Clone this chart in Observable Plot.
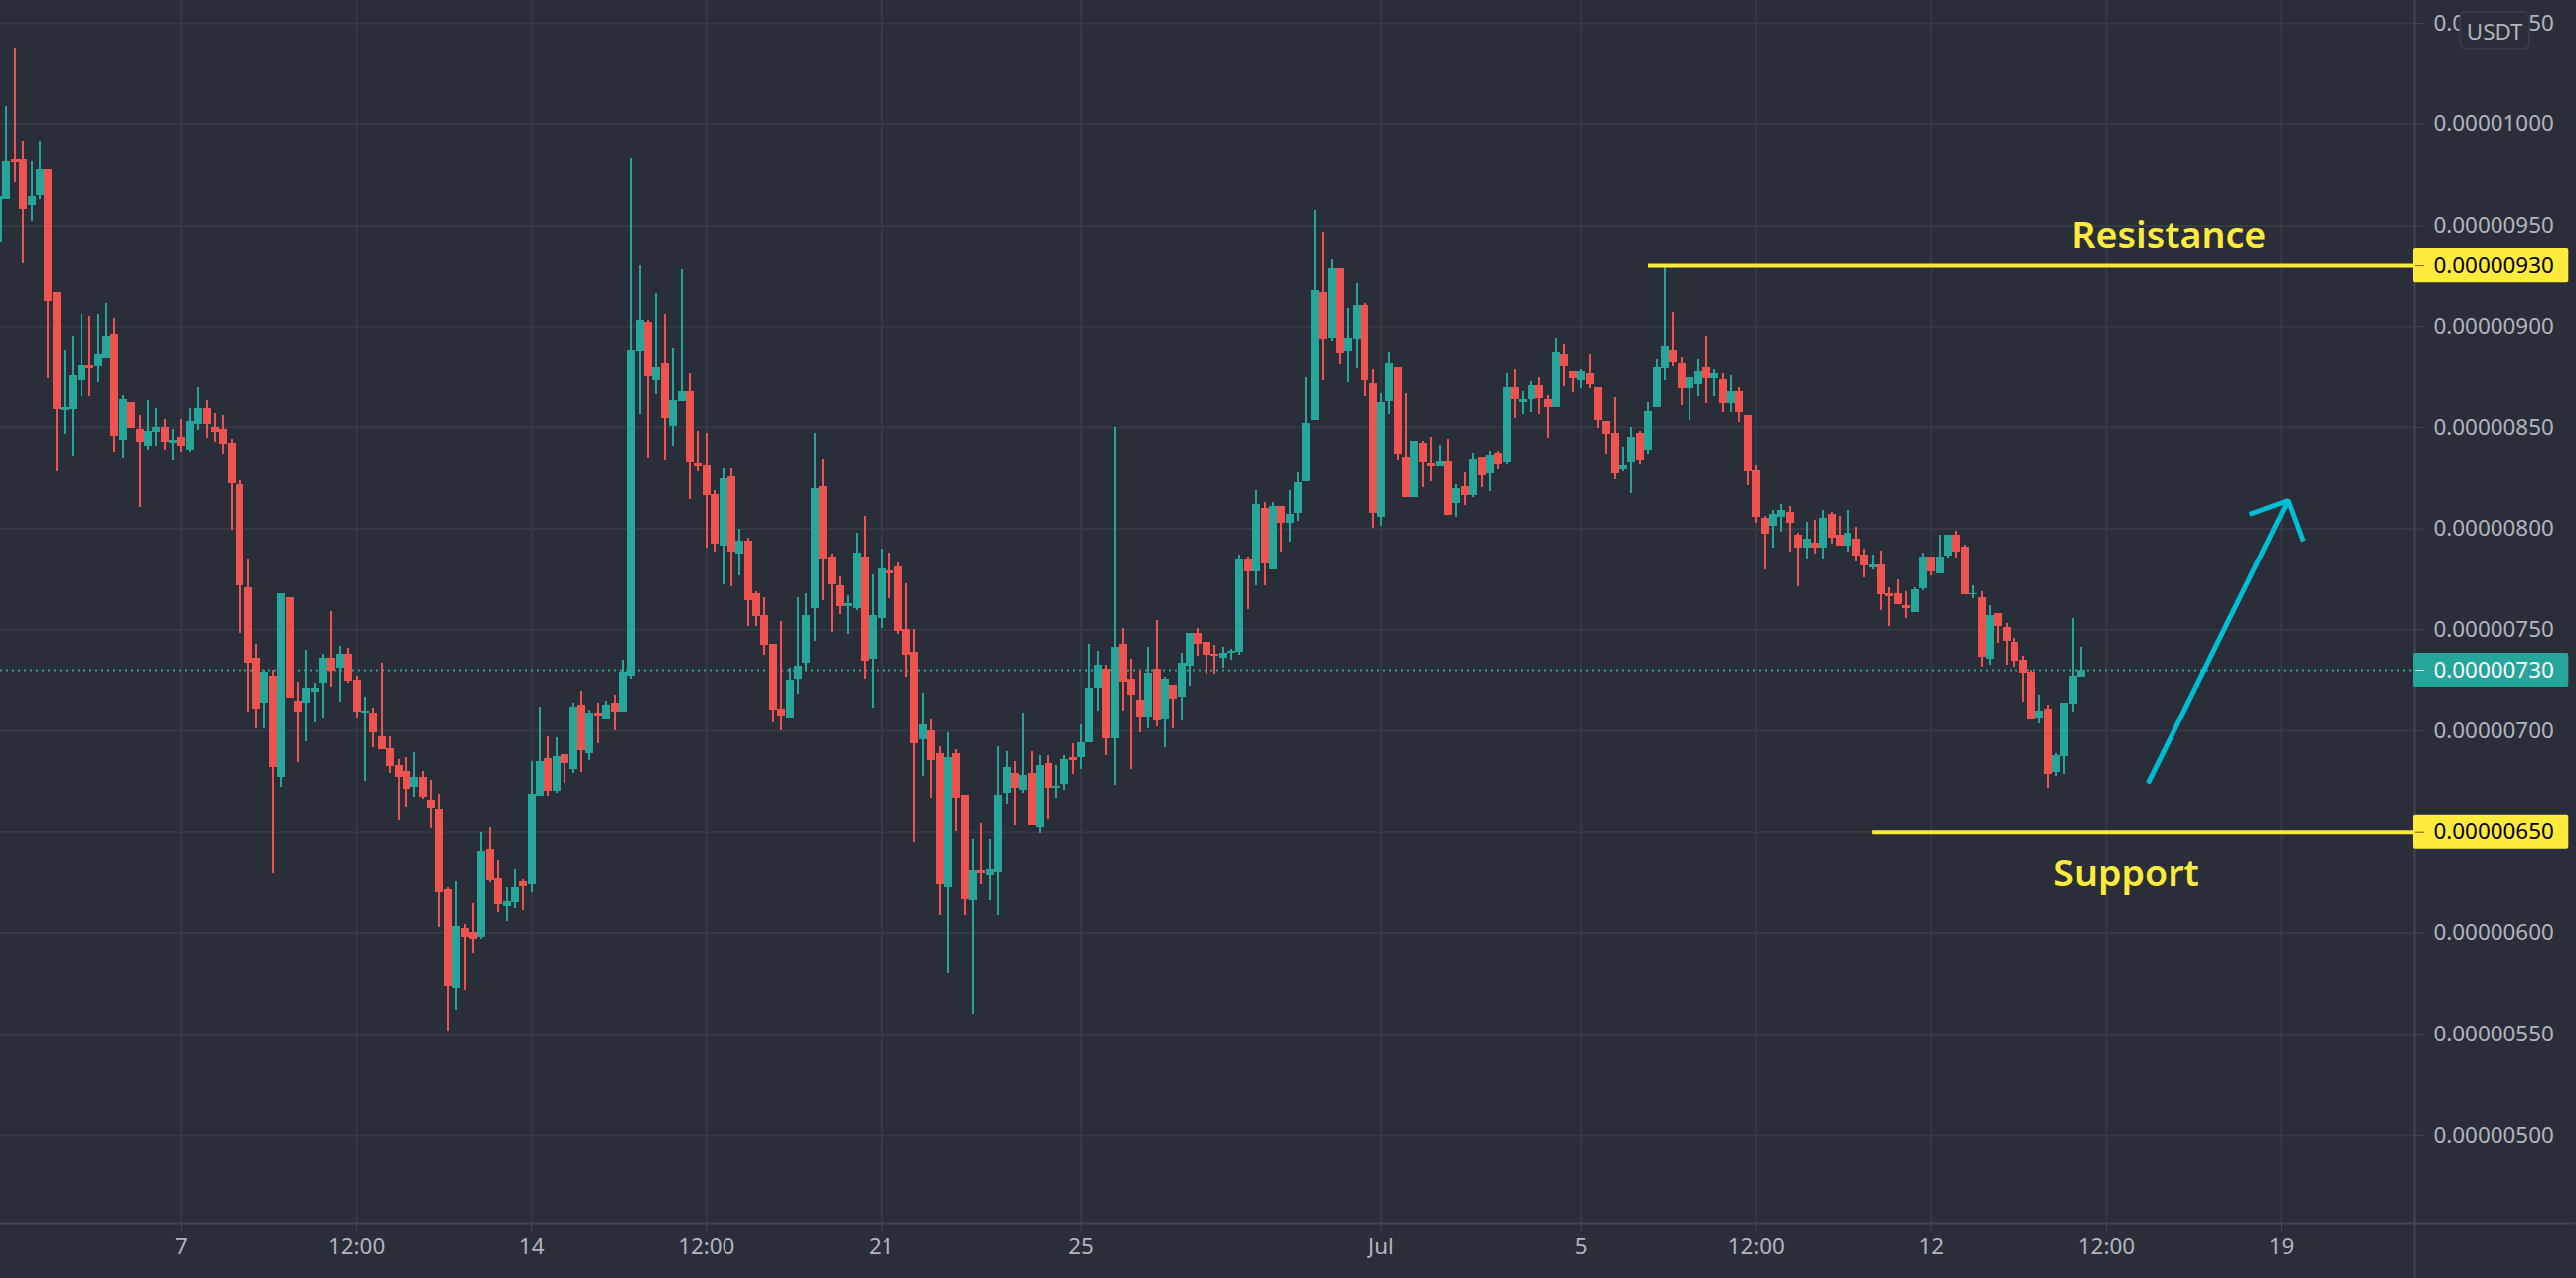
<!DOCTYPE html>
<html>
<head>
<meta charset="utf-8">
<style>
html,body{margin:0;padding:0;background:#2a2e39;overflow:hidden}
svg{display:block}
</style>
<script src="https://cdn.jsdelivr.net/npm/d3@7"></script>
<script src="https://cdn.jsdelivr.net/npm/@observablehq/plot@0.6"></script>
</head>
<body>
<script>
// Prices in units of 0.00000001 USDT, one value per 4h candle
const opens = [
941.6,963,982.6,982.6,960.2,965,977.8,917,858.2,858.8,
873.4,880.8,880.2,884.2,896,843.6,862.2,849,840.6,847.4,
850,842.2,845,838.6,851.4,859.2,850,849,842,822,
770.9,736,713.6,727.2,676.8,766,715,713.6,719.4,723.7,
736,730.8,738.1,725.3,708.7,709,697.3,691,683,680,
671.9,677.1,665.4,661,621.2,572.6,602,600.1,597.7,641.4,
627.2,613,614.9,625.2,623.6,667.8,686.1,669.8,688,680.6,
713,688.5,709,705.7,713.9,709.3,726.8,888,901.8,873.4,
881.8,850.2,862.6,868,832.2,831.4,817,791.3,825.7,787.4,
793.9,768,757,742.9,711,706.5,725.7,733.6,760.6,820.9,
786,771.9,761.5,760.6,786,735.6,755.6,779.2,781.2,750.2,
738.9,695.8,700,688.8,622.5,688.8,668.2,615.8,631,628.5,
630.4,668.8,678.9,670.7,678.9,652.4,684,671.6,673.6,686.8,
686.5,694,721,730.4,696,743,725.4,715.2,706.8,730.4,
705.8,722.6,716.6,731.8,748.4,744,738,735.8,738.4,738.6,
785.2,778.8,810.2,779.8,811.2,802.8,807.8,823.4,853.4,917,
894.4,928.8,887.6,893.6,910.6,872,805.8,862.6,879.8,835.2,
815.6,842,832.2,830.8,833.2,812.6,821,816.6,835.2,827.4,
837.2,832.8,870,862.2,863.6,871,864.2,859.8,886.2,877.8,
873.4,876.9,870.1,852.8,847,829.3,832.7,847,838.5,859.8,
879.3,888.2,881.8,869.5,871.4,879.9,874.4,874,861.7,868,
855.8,828.8,805.3,801.3,805.6,808.1,796.8,790.4,792.9,790.4,
807.1,796.8,791.3,794.9,787,780.6,782.1,767.9,767.9,762,
758.5,770.3,786.1,777.6,786.5,796.8,791,767.3,766,735.5,
758,751.1,743.8,735,729.1,706.4,710.9,679.5,687.2,713.3,726.7];
const highs = [
964.6,1008.6,1037.6,991.6,981.8,991.6,977.8,917,888.2,895,
905.8,904.8,905.8,911.6,903.8,866,862.2,855.8,863.2,859.2,
853.8,849,853.8,859.2,870,863.2,856.8,855.8,844,824,
785,743,730.2,730.2,767.9,766,724.3,740,723.4,738,
759.2,741.9,740.9,727.2,716.9,711.1,733.2,697.3,686,686.9,
689,680,675.2,668.4,622.2,625.2,604,614.4,650,652.2,
635.9,622.2,631.9,626.1,685,712,697.3,696.4,688,713.9,
719.9,710.1,713.9,715,717.8,735,983,930,902.9,916.2,
905.8,889.2,928,877,848,846.9,819,829.7,829.7,799.8,
795.6,768.8,766,742.9,754.1,731,766,768,846.9,834.2,
787.7,776,766.8,797.8,806.3,777.3,790,788,783.2,772.7,
750.2,718.9,706,691.9,699.2,690.7,668.2,646.2,654.1,646.2,
691.9,689.9,684.8,709,689.9,687.9,687.9,682.6,687.6,693.8,
703,742.9,739.2,732.4,850,750.4,735.2,730.2,741.2,754.4,
726.4,722.6,738.2,748.4,750.4,744,742.2,741.2,740.2,787.2,
786.2,819,813.2,813.2,811.2,819,827.8,874.8,957.8,947,
932.8,928.8,908.8,921,911.6,878.8,867,887.2,879.8,867,
843,843,845,841,844,822,827.8,837.2,835.2,838.2,
838.2,876.8,878.8,868,873,874.8,866,894,891,877.8,
878.8,886.2,870.1,852.8,865,840,849.8,847.9,862.2,883.8,
929.7,907,884.8,875,883.8,895.1,878.9,876.9,875.9,870.1,
855.8,831.2,806.2,809.2,812,811.1,797.7,803.2,804.1,809.2,
808.1,806.2,809.2,800.8,790,787,788.9,770.9,774.8,768.8,
770.9,788,786.1,796.8,796.8,798.9,791.9,771.8,768.8,761.8,
758,753.2,745.7,736.8,730,717.7,712.8,688.7,713.9,755.6,741.5];
const lows = [
941.6,963,971.4,931.2,952.4,963,874.4,828.4,846.4,835.6,
865.6,865.6,872.4,884.2,837.6,834.8,849.4,810.8,838.6,840.6,
838.6,833.8,837.6,837.6,848.4,844.6,842.6,836.6,799.4,748,
709.5,700.8,700.8,629.6,671.9,716.4,684.5,694.8,703.8,706.6,
721.8,714.5,723.7,706.6,674.7,691.5,690.6,678.7,655.6,662.4,
667,665.9,651.7,602.6,551.6,561.8,571.6,589.8,596.7,624.7,
610,605.6,611.9,610.9,619.8,667.8,667.8,668.9,673.8,678.7,
679.6,685.5,693.8,705.7,699.8,709.3,725.7,856.2,834.7,866.6,
833.6,840.7,862.6,814.5,828.3,790.5,788.5,772.2,771.3,776.7,
751.6,751.6,737.5,703.7,699.8,706.5,718.4,729.6,744.3,764.6,
748.8,757.5,747.7,759.5,725.7,711.3,750.8,765.4,747.7,726.5,
644.8,677.5,666.8,608.5,580.3,650.4,608.5,559.7,623.7,615.8,
608.5,663.4,653.5,668.8,653.5,649.4,656.4,666.8,670.6,678.6,
680.6,694,709.8,687.8,673,709.8,680.8,699,701,702,
691.6,701,704.8,722,736.8,727.8,727.8,730.8,734.8,737.6,
759.8,771.6,771.6,779.8,788.6,793.6,803.8,823.4,853.4,873.4,
892.6,881.2,872.4,879.4,865.6,800.4,801.4,856.4,833.8,815.6,
815.6,820.6,823.4,830.8,806.8,805.8,811.6,815.6,820.6,818.6,
829.4,831.8,854.4,856.2,857.2,856.2,844.6,859.8,870.4,867.6,
869.6,869.6,849.6,836.7,824.4,828.2,817.5,831.8,836.7,859.8,
873.5,880.3,860.7,853.4,865.6,861.7,865.6,857.3,857.3,852.4,
821.4,802.8,779.7,790.4,798.3,788.5,771.2,784.6,787.5,784.6,
792.5,791.3,788.5,783.7,775.7,779.7,759.6,751.7,762.4,755.6,
758.5,769.3,776.7,777.6,785.5,785.5,767.3,765.4,731.6,732.5,
743.2,732.5,731.6,714.3,705.4,703.6,671.6,677.4,678.4,709.3,726.7];
const closes = [
964.6,981.8,981.2,958.2,964.6,977.8,912.2,858.8,859.8,875.8,
880.8,879.4,886.2,895,845.4,864.2,849.4,842.6,848,850,
842.6,843.6,840.6,852.8,859.2,851.4,847.4,841.6,822.4,771.6,
733.6,710.6,729,681.7,767.9,716.4,709.5,721.3,721.3,736,
729.7,738.1,724.8,709.5,710,698.9,690.6,682.5,676.8,670.8,
677,667,661.5,619.8,573.7,603.1,597.7,596.7,640.3,625.6,
613.8,615.4,622.2,622.8,668.4,685,669.8,687,683.6,712,
690.4,709,707.4,713,709.3,729,888.3,902.9,875.3,879.8,
854.2,863.1,868,832.8,830.8,816.4,792.2,824.9,788.5,793.9,
764.6,756.7,742.3,710.5,707.6,725,732.2,757,819.8,784.6,
772.2,761.5,762.9,788,734.4,757,780,777.8,749.4,737.5,
693.8,703.1,685.4,623.7,686.8,666.8,616.6,631,629.6,631.9,
668.2,682,671.6,678,653.5,682.9,671.6,672.4,685.7,685.4,
694,721.2,732.4,696,741.2,724,717.6,706.8,728.4,704.8,
725.4,715.6,733.2,748.4,742.6,737.6,736.8,738.2,739.4,785.2,
778.8,812.2,782.8,811.2,802.8,807.2,823,851.8,918,893.6,
928.8,886.6,894,910.6,873.4,807.8,862.2,881.8,836.6,815.6,
843,832.8,830.8,833.2,806.8,820,816.6,834.2,826.4,836.2,
831.8,870,863.6,863.6,871,864.6,859.8,887.2,880.2,874.4,
877.8,871.4,853.6,846.4,827.3,831.2,844.9,833.6,857.7,879.9,
890.2,882.3,869.5,875,877.8,874.4,876.9,861.7,868,857.3,
828.2,805.6,797.4,807.1,809.2,802.8,790.4,794.9,790.4,805.3,
795.3,791.3,797.7,786.5,781.6,782.1,767.3,766.4,762.4,760.7,
769.7,786.1,778.6,786.1,796.8,788.5,767.3,768,736.5,757.1,
751.7,744.4,734.4,728.6,705.4,710,678.4,687.8,713.9,727,730];

const priceTicks = [500,550,600,650,700,750,800,850,900,950,1000,1050];
const timeTicks  = [22,43,64,85,106,130,166,190,211,232,253,274];
const timeLabels = ["7","12:00","14","12:00","21","25","Jul","5","12:00","12","12:00","19"];
const resistance = 930, support = 650, lastPrice = 730;

const candles = opens.map((o,i)=>({i,o,h:highs[i],l:lows[i],c:closes[i]}));
const up = candles.filter(d=>d.c>=d.o), down = candles.filter(d=>d.c<d.o);

const BG="#2a2e39", GRID="#363a45", EDGE="#434651", TXT="#b2b5be",
      RED="#ef5350", TEAL="#26a69a", YEL="#ffeb3b", CYAN="#00bcd4";
const FONT='"Noto Sans",sans-serif', FS=22.4;
const xMin=0.295, xEdge=289.98, xFar=309.4, yMin=456.2, yMax=1061.3, yFoot=429.2;
const tagEnd=308.5, tagH=8.4;

const label = (d)=> (d/1e8).toFixed(8);
const tLabel = new Map(timeTicks.map((t,i)=>[t,timeLabels[i]]));

const wick = (data,color)=>Plot.ruleX(data,{x:"i",y1:"l",y2:"h",stroke:color,strokeWidth:2,shapeRendering:"crispEdges"});
const body = (data,color)=>Plot.ruleX(data,{x:"i",y1:"o",y2:"c",stroke:color,strokeWidth:8,shapeRendering:"crispEdges"});

const chart = Plot.plot({
  width:2592, height:1286,
  marginLeft:0, marginRight:163, marginTop:0, marginBottom:55,
  x:{type:"linear",domain:[xMin,xEdge],axis:null},
  y:{type:"linear",domain:[yMin,yMax],axis:null},
  style:{background:BG,fontFamily:FONT,fontSize:FS+"px"},
  marks:[
    Plot.ruleY(priceTicks,{stroke:GRID,strokeWidth:2}),
    Plot.ruleX(timeTicks,{stroke:GRID,strokeWidth:2}),
    Plot.ruleY([lastPrice],{stroke:TEAL,strokeWidth:2,strokeDasharray:"2 4"}),
    wick(down,RED),wick(up,TEAL),body(down,RED),body(up,TEAL),

    Plot.ruleY([yMin],{x1:xMin,x2:xFar,stroke:EDGE,strokeWidth:2}),
    Plot.ruleX([xEdge],{y1:yFoot,y2:yMax,stroke:EDGE,strokeWidth:2}),

    Plot.axisX(timeTicks,{anchor:"bottom",label:null,tickSize:9,tickPadding:6,stroke:EDGE,fill:TXT,tickFormat:t=>tLabel.get(t),fontSize:FS}),
    Plot.axisY(priceTicks,{anchor:"right",label:null,tickSize:9,tickPadding:10,stroke:EDGE,fill:TXT,tickFormat:label,fontSize:FS}),

    // horizontal levels
    Plot.ruleY([resistance],{x1:198.03,x2:xEdge,stroke:YEL,strokeWidth:4}),
    Plot.ruleY([support],{x1:225,x2:xEdge,stroke:YEL,strokeWidth:4}),
    Plot.text(["Resistance"],{x:260.5,y:944.8,fill:YEL,fontSize:37.6,fontWeight:600,textAnchor:"middle"}),
    Plot.text(["Support"],{x:255.4,y:628.8,fill:YEL,fontSize:37.6,fontWeight:600,textAnchor:"middle"}),

    // arrow
    Plot.line([{x:258,y:674},{x:274.8,y:814}],{x:"x",y:"y",stroke:CYAN,strokeWidth:5,strokeLinecap:"butt"}),
    Plot.line([{x:270.2,y:807.2},{x:274.8,y:814},{x:276.6,y:793.9}],{x:"x",y:"y",stroke:CYAN,strokeWidth:5,strokeLinecap:"butt",strokeLinejoin:"miter"}),

    // price tags
    Plot.rect([resistance,support],{x1:xEdge-0.12,x2:tagEnd,y1:d=>d-tagH,y2:d=>d+tagH,fill:YEL,rx:2}),
    Plot.rect([lastPrice],{x1:xEdge-0.12,x2:tagEnd,y1:d=>d-tagH,y2:d=>d+tagH,fill:TEAL,rx:2}),
    Plot.axisY([resistance,support],{anchor:"right",label:null,tickSize:9,tickPadding:10,stroke:"#6b6420",fill:"#000000",tickFormat:label,fontSize:FS}),
    Plot.axisY([lastPrice],{anchor:"right",label:null,tickSize:9,tickPadding:10,stroke:"#d4ece9",fill:"#ffffff",tickFormat:label,fontSize:FS}),

    // currency badge
    Plot.rect(["USDT"],{x1:295.5,x2:303.8,y1:1037.2,y2:1055.4,fill:BG,stroke:GRID,strokeWidth:2,rx:6}),
    Plot.text(["USDT"],{x:299.6,y:1045.4,fill:TXT,fontSize:FS})
  ]
});
document.body.appendChild(chart);
</script>
</body>
</html>
